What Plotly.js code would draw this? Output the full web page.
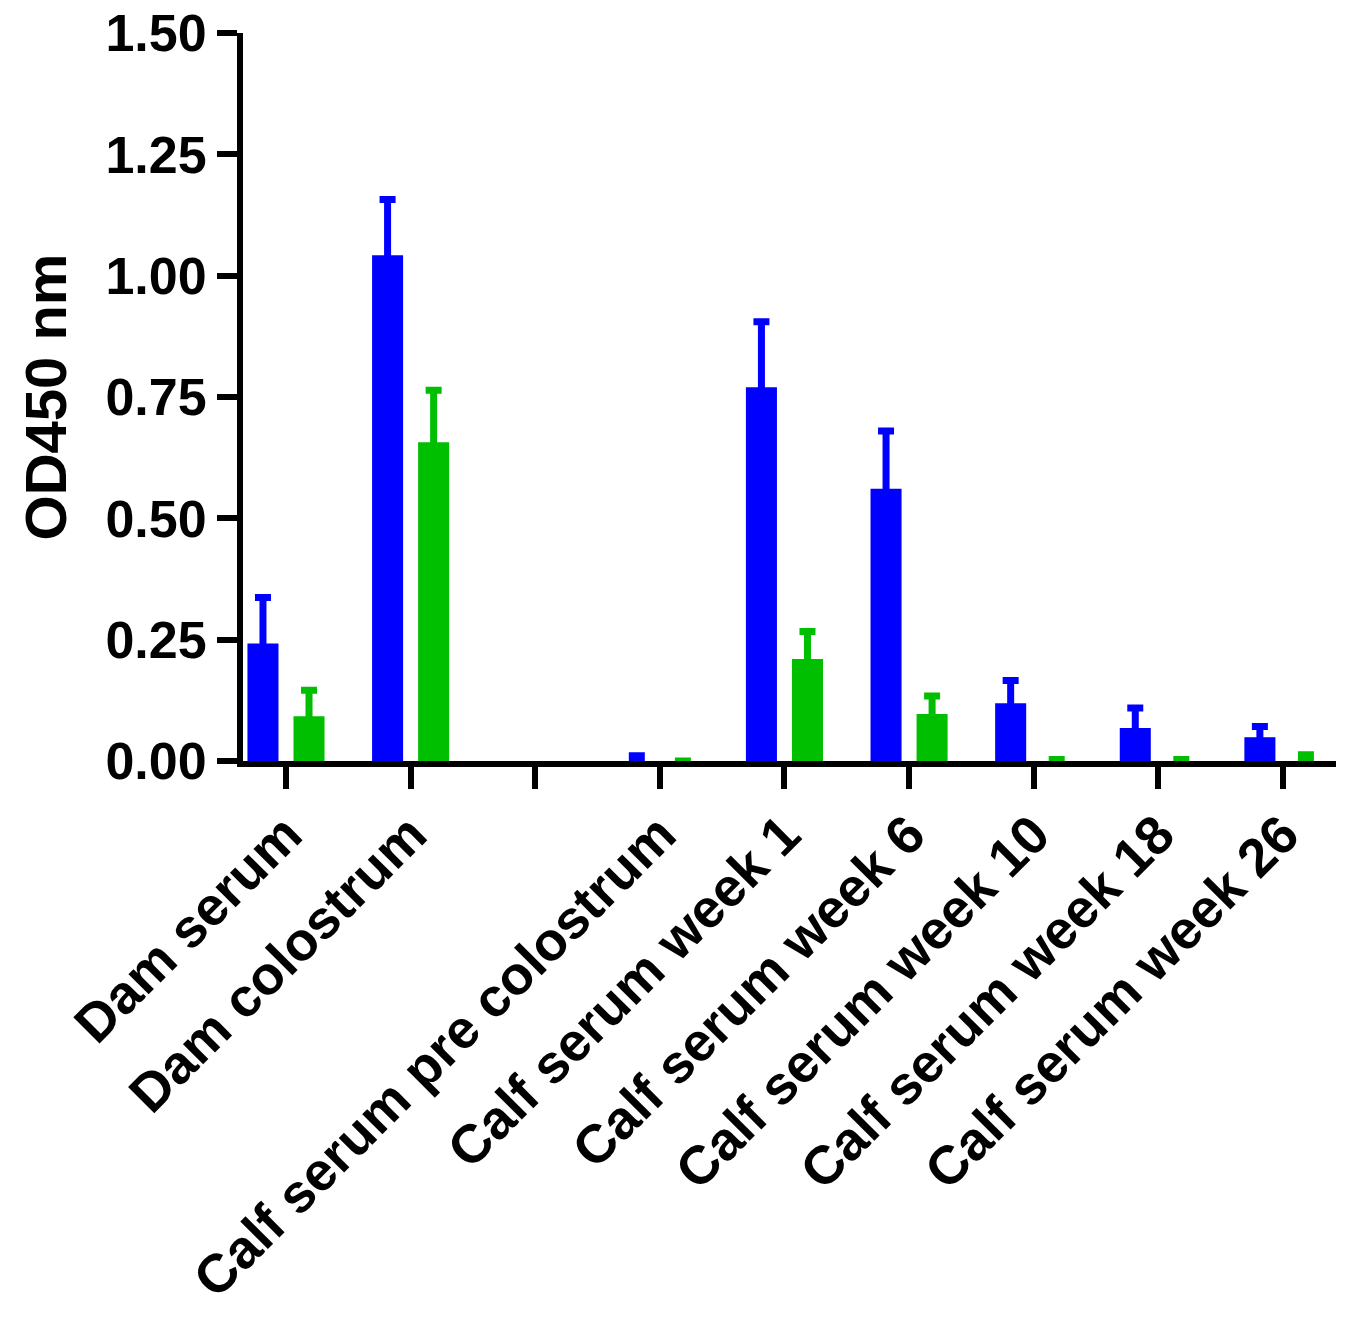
<!DOCTYPE html>
<html>
<head>
<meta charset="utf-8">
<script src="https://cdn.plot.ly/plotly-3.0.1.min.js"></script>
<style>html,body{margin:0;padding:0;background:#fff;}</style>
</head>
<body>
<div id="chart" style="width:1356px;height:1317px;"></div>
<script>
var categories = ["Dam serum", "Dam colostrum", "", "Calf serum pre colostrum",
  "Calf serum week 1", "Calf serum week 6", "Calf serum week 10",
  "Calf serum week 18", "Calf serum week 26"];
var blueMean = [0.242, 1.042, null, 0, 0.770, 0.561, 0.119, 0.068, 0.049];
var blueErr  = [0.095, 0.115, null, 0.011, 0.135, 0.119, 0.047, 0.041, 0.022];
var greenMean = [0.092, 0.657, null, 0, 0.210, 0.097, 0, 0, 0];
var greenErr  = [0.054, 0.107, null, 0, 0.057, 0.037, 0.003, 0.003, 0.013];
var yTicks = [0, 0.25, 0.5, 0.75, 1.0, 1.25, 1.5];

var pos = categories.map(function(c, i){ return i; });
var blue = '#0000ff', green = '#00bf00';
var fam = 'Liberation Sans, Arial, sans-serif';

// lower error arm runs down to the baseline so it stays hidden inside the bar
function down(m){ return m.map(function(v){ return v == null ? null : v; }); }

var traces = [
  {type: 'bar', x: pos, y: blueMean, marker: {color: blue, line: {width: 0}},
   error_y: {type: 'data', symmetric: false, array: blueErr, arrayminus: down(blueMean),
             color: blue, thickness: 7, width: 8}, hoverinfo: 'skip'},
  {type: 'bar', x: pos, y: greenMean, marker: {color: green, line: {width: 0}},
   error_y: {type: 'data', symmetric: false, array: greenErr, arrayminus: down(greenMean),
             color: green, thickness: 7, width: 8}, hoverinfo: 'skip'}
];

var layout = {
  width: 1356, height: 1317,
  margin: {l: 243, r: 20, t: 33, b: 556},
  paper_bgcolor: '#fff', plot_bgcolor: '#fff',
  showlegend: false,
  barmode: 'group', bargap: 0.261, bargroupgap: 0.326,
  xaxis: {
    range: [-0.345, 8.426], tickmode: 'array', tickvals: pos, ticktext: categories,
    tickangle: -45, ticks: 'outside', ticklen: 22, tickwidth: 6, tickcolor: '#000',
    ticklabelstandoff: -8,
    showline: true, linewidth: 6, linecolor: '#000', showgrid: false, zeroline: false,
    tickfont: {family: fam, size: 54, color: '#000', weight: 'bold'}
  },
  yaxis: {
    range: [0, 1.5], tickmode: 'array', tickvals: yTicks, tickformat: '.2f',
    ticks: 'outside', ticklen: 20, tickwidth: 6, tickcolor: '#000',
    showline: true, linewidth: 6, linecolor: '#000', showgrid: false, zeroline: false,
    tickfont: {family: fam, size: 52, color: '#000', weight: 'bold'},
    title: {text: 'OD450 nm', font: {family: fam, size: 58, color: '#000', weight: 'bold'}, standoff: 22}
  }
};

Plotly.newPlot('chart', traces, layout, {displayModeBar: false, staticPlot: true});
</script>
</body>
</html>
